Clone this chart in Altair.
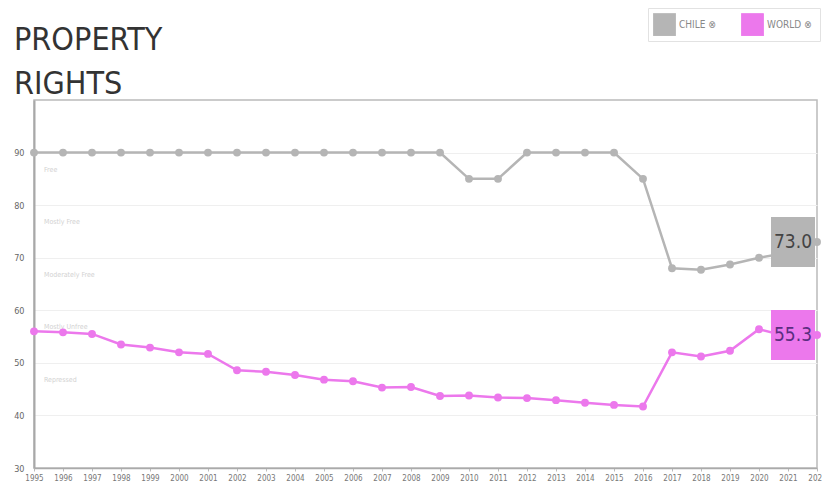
import altair as alt
import pandas as pd

years = list(range(1995, 2023))
chile = [90, 90, 90, 90, 90, 90, 90, 90, 90, 90, 90, 90, 90, 90, 90,
         85, 85, 90, 90, 90, 90, 85, 68.0, 67.7, 68.7, 70.0, 71.0, 73.0]
world = [56.0, 55.8, 55.5, 53.5, 52.9, 52.0, 51.7, 48.6, 48.3, 47.7, 46.8, 46.5,
         45.3, 45.4, 43.7, 43.8, 43.4, 43.3, 42.9, 42.4, 42.0, 41.7,
         52.0, 51.2, 52.3, 56.4, 55.0, 55.3]
series_names = ["Chile", "World"]
band_labels = ["Free", "Mostly Free", "Moderately Free", "Mostly Unfree", "Repressed"]
band_tops = [90, 80, 70, 60, 50]
y_ticks = [30, 40, 50, 60, 70, 80, 90]

rows = []
for y, c, w in zip(years, chile, world):
    rows.append({"year": y, "series": "Chile", "value": c})
    rows.append({"year": y, "series": "World", "value": w})
df = pd.DataFrame(rows)
bands = pd.DataFrame({"label": band_labels, "top": band_tops, "year": [years[0]] * len(band_labels)})

NARROW = "DejaVu Sans Condensed, Liberation Sans Narrow, sans-serif"

leg = alt.Legend(
    orient="none", legendX=614, legendY=-92, direction="horizontal", title=None,
    symbolType="square", symbolSize=520, symbolStrokeWidth=0, symbolOpacity=1,
    labelExpr="upper(datum.label) + '  ⊗'", labelFont=NARROW, labelFontSize=10,
    labelColor="#888", columnPadding=22, padding=5, strokeColor="#e2e2e2",
    fillColor="white", labelOffset=3,
)
color = alt.Color("series:N", scale=alt.Scale(domain=series_names, range=["#b5b5b5", "#ec78ec"]), legend=leg)

x_scale = alt.Scale(domain=[1995, 2022], nice=False, zero=False)
y_scale = alt.Scale(domain=[30, 100], nice=False, zero=False)
x_axis = alt.Axis(values=years, format="d", title=None, labelFont=NARROW, labelFontSize=8,
                  labelColor="#777", tickColor="#bbb", tickSize=3, domainColor="#aaa",
                  domainWidth=1.5, grid=False, labelPadding=3, labelFlush=False,
                  labelOverlap=False, labelBound=False)
y_axis = alt.Axis(values=y_ticks, title=None, grid=True, gridColor="#efefef", ticks=False,
                  labelPadding=10, domainColor="#a8a8a8", domainWidth=2, labelFont=NARROW,
                  labelFontSize=9, labelColor="#666")

base = alt.Chart(df).encode(
    x=alt.X("year:Q", scale=x_scale, axis=x_axis),
    y=alt.Y("value:Q", scale=y_scale, axis=y_axis),
    color=color,
)

lines = base.mark_line(strokeWidth=2.5)
points = base.mark_circle(size=62, opacity=1)

band_text = alt.Chart(bands).mark_text(align="left", baseline="middle", dx=10, dy=17,
                                         fontSize=7, font=NARROW, color="#d2d2d2").encode(
    x=alt.X("year:Q", scale=x_scale, axis=x_axis),
    y=alt.Y("top:Q", scale=y_scale, axis=y_axis),
    text="label:N")

last = base.transform_filter(alt.datum.year == years[-1])
box_white = last.mark_rect(width=44, height=50, xOffset=-24, color="white", opacity=1)
box = last.mark_rect(width=44, height=50, xOffset=-24, opacity=0.7)
box_text = last.mark_text(dx=-24, fontSize=19, font=NARROW, baseline="middle").encode(
    text=alt.Text("value:Q", format=".1f"),
    color=alt.condition(alt.datum.series == "Chile", alt.value("#444444"), alt.value("#5b2d80")),
)

chart = alt.layer(band_text, lines, points, box_white, box, box_text).properties(
    width=783, height=368,
    autosize=alt.AutoSizeParams(type="none"),
    padding={"left": 26, "top": 92, "right": 5, "bottom": 20},
    title=alt.TitleParams(["PROPERTY", "RIGHTS"], anchor="start", frame="group", font=NARROW,
                          fontSize=32, fontWeight="normal", color="#333", lineHeight=44,
                          dx=-20, dy=99, offset=6),
).configure_view(stroke="#bbbbbb", strokeWidth=1.5).configure_axisX(labelOverlap=False)

chart.save("out.html", embed_options={"renderer": "svg", "actions": False})
